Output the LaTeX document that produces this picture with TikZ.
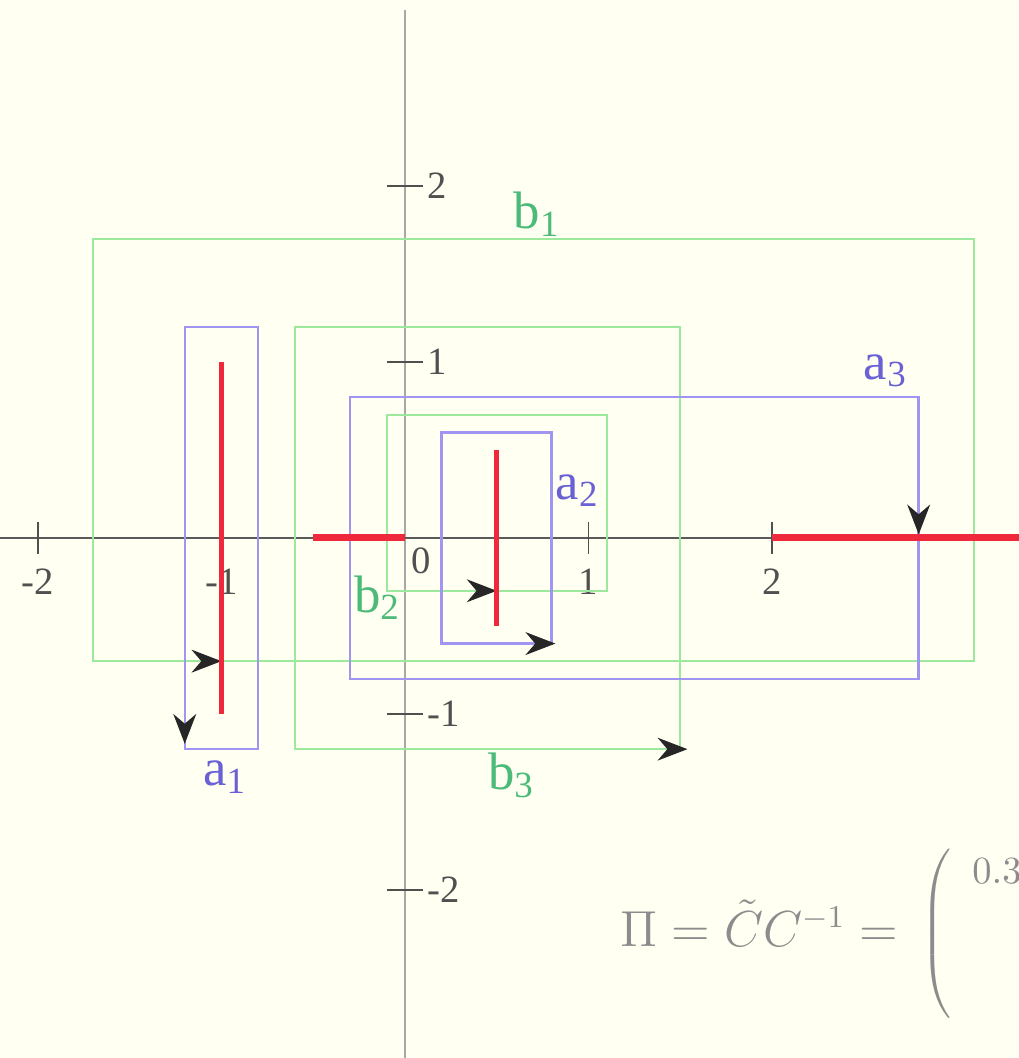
\documentclass[tikz,border=0pt]{standalone}
\usepackage{fontspec}
\setmainfont{Liberation Serif}
\usepackage{xcolor}
\definecolor{PaperBg}{HTML}{FFFFF2}
\definecolor{LoopA}{HTML}{A096F2}
\definecolor{LoopB}{HTML}{9CE89C}
\definecolor{LabelA}{HTML}{6A62D4}
\definecolor{LabelB}{HTML}{4CBA78}
\definecolor{CutRed}{HTML}{F0283C}
\definecolor{AxisGray}{HTML}{5A5A5A}
\definecolor{VAxisGray}{HTML}{A8A8A8}
\definecolor{TickGray}{HTML}{505050}
\definecolor{FormulaGray}{HTML}{8C8C8C}
\usetikzlibrary{arrows.meta}

\begin{document}
\begin{tikzpicture}[x=1.835cm, y=1.76cm,
  aloop/.style={draw=LoopA, line width=.7pt},
  bloop/.style={draw=LoopB, line width=.6pt},
  cut/.style={draw=CutRed, line width=1.6pt},
  tip/.style={-{Stealth[length=8.5pt,width=6.5pt,color=black!85]}},
  lab/.style={font=\fontsize{15}{15}\selectfont, inner sep=1pt},
  ticklab/.style={font=\fontsize{11}{11}\selectfont, text=TickGray, inner sep=1pt}]
  % frame
  \fill[PaperBg] (-2.207,-2.955) rectangle (3.346,3.057);
  \useasboundingbox (-2.207,-2.955) rectangle (3.346,3.057);
  \clip (-2.207,-2.955) rectangle (3.346,3.057);

  % axes
  \draw[VAxisGray, line width=.6pt] (0,-3) -- (0,3.0);
  \draw[AxisGray, line width=.6pt] (-2.3,0) -- (3.4,0);
  \foreach \t in {-2,-1,1,2} {
    \draw[TickGray, line width=.5pt] (\t,-0.09) -- (\t,0.09);
    \draw[TickGray, line width=.5pt] (-0.1,\t) -- (0.1,\t);
  }
  \node[ticklab] (xm2) at (-2,-0.25) {-2};
  \node[ticklab] (xm1) at (-1,-0.25) {-1};
  \node[ticklab] (x0) at (0.09,-0.13) {0};
  \node[ticklab] (x1) at (1,-0.25) {1};
  \node[ticklab] (x2) at (2,-0.25) {2};
  \node[ticklab, anchor=west] (y2) at (0.1,2) {2};
  \node[ticklab, anchor=west] (y1) at (0.1,1) {1};
  \node[ticklab, anchor=west] (ym1) at (0.1,-1) {-1};
  \node[ticklab, anchor=west] (ym2) at (0.1,-2) {-2};

  % b loops
  \draw[bloop] (-1.7,-0.7) rectangle (3.1,1.7);
  \draw[bloop] (-0.1,-0.3) rectangle (1.1,0.7);
  \draw[bloop] (-0.6,-1.2) rectangle (1.5,1.2);
  \draw[bloop, tip] (-1.4,-0.7) -- (-1,-0.7);
  \draw[bloop, tip] (0.2,-0.3) -- (0.5,-0.3);
  \draw[bloop, tip] (1.2,-1.2) -- (1.54,-1.2);

  % a loops
  \draw[aloop] (-1.2,-1.2) rectangle (-0.8,1.2);
  \draw[aloop] (0.2,-0.6) rectangle (0.8,0.6);
  \draw[aloop] (-0.3,-0.8) rectangle (2.8,0.8);
  \draw[aloop, tip] (-1.2,-0.9) -- (-1.2,-1.17);
  \draw[aloop, tip] (0.55,-0.6) -- (0.82,-0.6);
  \draw[aloop, tip] (2.8,0.3) -- (2.8,0.02);

  % cuts
  \draw[cut] (-1,-1) -- (-1,1);
  \draw[cut] (0.5,-0.5) -- (0.5,0.5);
  \draw[cut, line width=2pt] (-0.5,0) -- (0,0);
  \draw[cut, line width=2pt] (2,0) -- (3.4,0);

  % labels
  \node[lab, text=LabelB] (b1) at (0.72,1.84) {b\textsubscript{1}};
  \node[lab, text=LabelB] (b2) at (-0.15,-0.34) {b\textsubscript{2}};
  \node[lab, text=LabelB] (b3) at (0.58,-1.35) {b\textsubscript{3}};
  \node[lab, text=LabelA] (a1) at (-0.98,-1.36) {a\textsubscript{1}};
  \node[lab, text=LabelA] (a2) at (0.94,0.27) {a\textsubscript{2}};
  \node[lab, text=LabelA] (a3) at (2.62,0.95) {a\textsubscript{3}};

  % formula, cut off by the frame
  \node[font=\fontsize{13.3}{14}\selectfont, text=FormulaGray, anchor=base west, inner sep=0pt] (pi) at (1.17,-2.32)
    {$\Pi = \tilde{C}C^{-1} =\, \left(\begin{array}{@{\hspace{6pt}}l}\mbox{\fontsize{11}{12}\selectfont$0.3$}\\ \rule{0pt}{30pt}\end{array}\right.$};
\end{tikzpicture}
\end{document}
